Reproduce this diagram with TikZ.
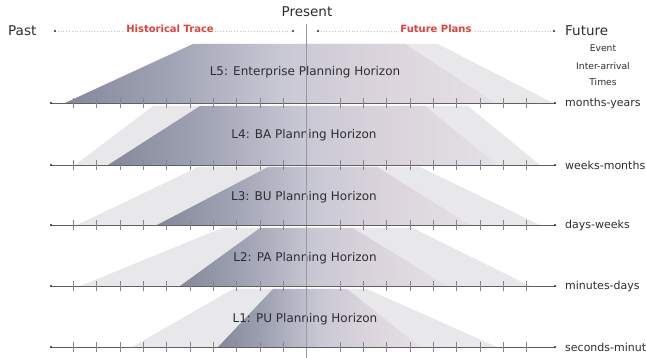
\documentclass[tikz,border=0pt]{standalone}
\usepackage{fontspec}
\setmainfont{DejaVu Sans}
\definecolor{sdark}{RGB}{132,136,154}
\definecolor{smid}{RGB}{160,163,180}
\definecolor{slight}{RGB}{200,200,212}
\definecolor{spink}{RGB}{219,212,220}
\definecolor{spale}{RGB}{228,224,229}
\definecolor{bandgray}{RGB}{232,232,234}
\definecolor{txt}{RGB}{45,45,50}
\definecolor{axisgray}{RGB}{95,95,100}
\definecolor{tracered}{RGB}{232,64,58}
% left-to-right shade of each planning horizon (path box maps to 25bp..75bp)
\pgfdeclarehorizontalshading{levelshade}{100bp}{%
  color(0bp)=(sdark); color(25bp)=(sdark); color(37bp)=(smid);
  color(50bp)=(slight); color(62bp)=(spink); color(75bp)=(spale);
  color(100bp)=(spale)}
\begin{document}
\begin{tikzpicture}[x=1pt,y=-1pt,
  band/.style={fill=bandgray,draw=none},
  horizon/.style={shading=levelshade,draw=none},
  lvl/.style={text=txt,inner sep=0pt,font=\fontsize{12}{14}\selectfont},
  head/.style={text=txt,inner sep=0pt,font=\fontsize{13.5}{15}\selectfont},
  scale label/.style={text=txt,inner sep=0pt,anchor=west,font=\fontsize{11}{13}\selectfont},
  side note/.style={text=txt,inner sep=0pt,font=\fontsize{9.2}{11}\selectfont},
  trace/.style={text=tracered,fill=white,inner sep=1.5pt,font=\bfseries\fontsize{10}{12}\selectfont},
  axis/.style={draw=axisgray,line width=0.6pt},
  tick/.style={draw=axisgray!75,line width=0.5pt},
  enddot/.style={fill=black!85},
  centerline/.style={draw=gray!80,line width=0.6pt}]
\useasboundingbox (0,0) rectangle (646,358);

% ---- L5 ----
\fill[band]    (193,44) -- (438,44) -- (553,103) -- (65,103) -- cycle;
\shade[horizon](193,44) -- (405,44) -- (495,103) -- (65,103) -- cycle;
% ---- L4 ----
\fill[band]    (153,106) -- (468,106) -- (540,165) -- (75,165) -- cycle;
\shade[horizon](200,106) -- (425,106) -- (497,165) -- (108,165) -- cycle;
% ---- L3 ----
\fill[band]    (198,167) -- (420,167) -- (540,225) -- (77,225) -- cycle;
\shade[horizon](268,167) -- (377,167) -- (470,225) -- (157,225) -- cycle;
% ---- L2 ----
\fill[band]    (222,228) -- (413,228) -- (530,286) -- (80,286) -- cycle;
\shade[horizon](260,228) -- (353,228) -- (447,286) -- (180,286) -- cycle;
% ---- L1 ----
\fill[band]    (233,289) -- (367,289) -- (497,347) -- (132,347) -- cycle;
\shade[horizon](273,289) -- (347,289) -- (420,347) -- (218,347) -- cycle;

% level names
\node[lvl] (l5) at (305,72)  {L5: Enterprise Planning Horizon};
\node[lvl] (l4) at (304,135) {L4: BA Planning Horizon};
\node[lvl] (l3) at (304,197) {L3: BU Planning Horizon};
\node[lvl] (l2) at (305,258) {L2: PA Planning Horizon};
\node[lvl] (l1) at (305,319) {L1: PU Planning Horizon};

% present marker
\draw[centerline] (306,24) -- (306,358);

% time scales with ticks
\foreach \y/\nm/\txt in {103/s5/months-years,165/s4/weeks-months,225/s3/days-weeks,
                          286/s2/minutes-days,347/s1/seconds-minutes}{
  \draw[axis] (51,\y) -- (555,\y);
  \foreach \k in {0,...,9}{\draw[tick] (73.3+23.33*\k,\y-5) -- (73.3+23.33*\k,\y+5);}
  \foreach \k in {0,...,8}{\draw[tick] (340+23.33*\k,\y-5) -- (340+23.33*\k,\y+5);}
  \fill[enddot] (51,\y) circle (1.2);
  \fill[enddot] (555,\y) circle (1.2);
  \node[scale label] (\nm) at (565,\y) {\txt};
}

% top axis: past / present / future
\draw[gray!45,dotted,line width=0.8pt] (55,31) -- (293,31);
\draw[gray!45,dotted,line width=0.8pt] (318,31) -- (554,31);
\foreach \x in {55,293,318,554}{\fill[enddot] (\x,31) circle (1.1);}
\node[trace] (hist) at (170,29) {Historical Trace};
\node[trace] (plan) at (436,29) {Future Plans};
\node[head,anchor=west] (past) at (8,31) {Past};
\node[head] (present) at (307,12) {Present};
\node[head,anchor=west] (future) at (565,31) {Future};
\node[side note] (ev1) at (603,48) {Event};
\node[side note] (ev2) at (603,66) {Inter-arrival};
\node[side note] (ev3) at (603,82) {Times};
\end{tikzpicture}
\end{document}
